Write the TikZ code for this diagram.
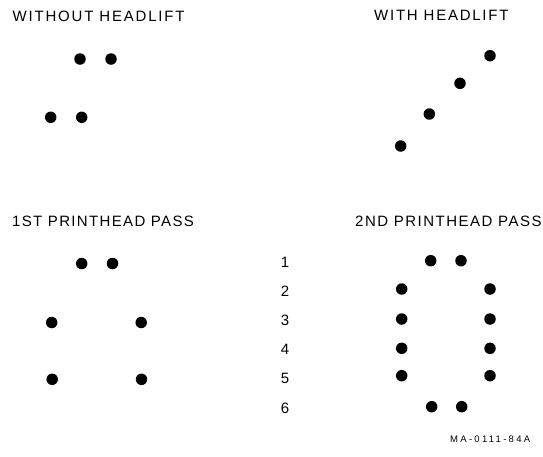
\documentclass[tikz,border=0pt]{standalone}
\usepackage{fontspec}
\setmainfont{Liberation Sans}
\newfontfamily\codefont[LetterSpace=24]{Liberation Sans}
\begin{document}
\begin{tikzpicture}[x=1pt,y=-1pt,
  dot/.style={circle,fill=black,inner sep=0pt,minimum size=11.5pt},
  title/.style={anchor=base west,inner sep=0pt,font=\fontsize{15}{17}\selectfont},
  rownum/.style={anchor=center,inner sep=0pt,font=\fontsize{15}{17}\selectfont},
  code/.style={anchor=base west,inner sep=0pt,font=\codefont\fontsize{9.5}{11}\selectfont}]
\useasboundingbox (0,0) rectangle (543,456);
% titles
\node[title] (t1) at (12.5,21) {\addfontfeatures{LetterSpace=12}WITHOUT HEADLIFT};
\node[title] (t2) at (374,20.5) {\addfontfeatures{LetterSpace=11.7}WITH HEADLIFT};
\node[title] (t3) at (12,226.5) {\addfontfeatures{LetterSpace=9}1ST PRINTHEAD PASS};
\node[title] (t4) at (355,226.5) {\addfontfeatures{LetterSpace=10}2ND PRINTHEAD PASS};
% without headlift
\node[dot] (a1) at (80,59) {};
\node[dot] (a2) at (111,59) {};
\node[dot] (a3) at (50.7,117.3) {};
\node[dot] (a4) at (81.7,117.3) {};
% with headlift
\node[dot] (b1) at (490,55.7) {};
\node[dot] (b2) at (460,83.3) {};
\node[dot] (b3) at (429.3,114) {};
\node[dot] (b4) at (400.7,146) {};
% first pass
\node[dot] (c1) at (81.7,263.5) {};
\node[dot] (c2) at (112.5,263.5) {};
\node[dot] (c3) at (51.7,322.5) {};
\node[dot] (c4) at (141.2,322.5) {};
\node[dot] (c5) at (52.2,379.3) {};
\node[dot] (c6) at (141.5,379.3) {};
% row numbers
\node[rownum] (n1) at (285,262.3) {1};
\node[rownum] (n2) at (285,291.5) {2};
\node[rownum] (n3) at (285,320.8) {3};
\node[rownum] (n4) at (285,349.2) {4};
\node[rownum] (n5) at (285,378.8) {5};
\node[rownum] (n6) at (285,408.2) {6};
% second pass
\node[dot] (d1) at (430.7,260.7) {};
\node[dot] (d2) at (461,260.7) {};
\node[dot] (d3) at (401.7,289) {};
\node[dot] (d4) at (490,289) {};
\node[dot] (d5) at (401.7,319) {};
\node[dot] (d6) at (490,319) {};
\node[dot] (d7) at (401.7,348.3) {};
\node[dot] (d8) at (490,348.3) {};
\node[dot] (d9) at (401.7,375.7) {};
\node[dot] (d10) at (490,375.7) {};
\node[dot] (d11) at (431.7,406.7) {};
\node[dot] (d12) at (461.7,406.7) {};
% figure code
\node[code] (mc) at (450,442) {MA-0111-84A};
\end{tikzpicture}
\end{document}
